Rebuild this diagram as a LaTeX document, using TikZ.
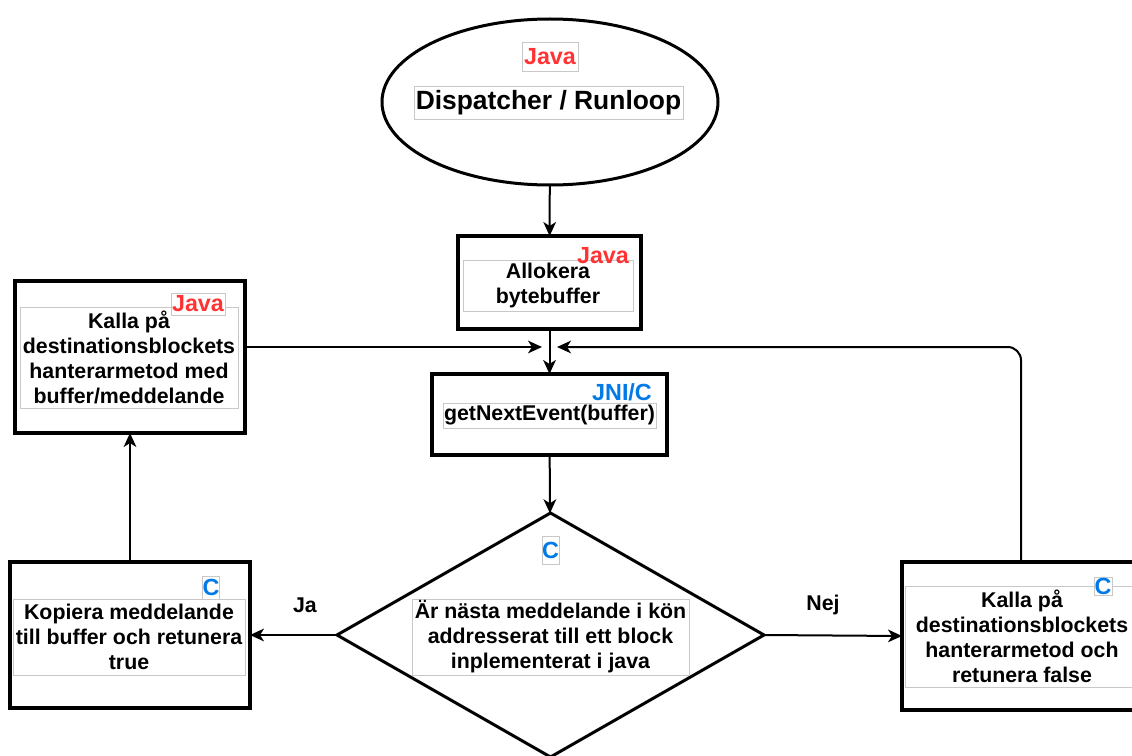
\documentclass[tikz,border=0pt]{standalone}
\usepackage{fontspec}
\setmainfont{Liberation Sans}
\usetikzlibrary{shapes.geometric,arrows.meta}
\definecolor{javared}{RGB}{255,51,51}
\definecolor{cblue}{RGB}{0,122,230}
\definecolor{framegray}{RGB}{200,200,200}
\begin{document}
\begin{tikzpicture}[x=0.75pt,y=-0.75pt,
  every node/.style={inner sep=0pt, outer sep=0pt},
  procbox/.style={draw, line width=3pt, fill=white},
  txt/.style={font=\fontsize{16}{18.75}\selectfont\bfseries, align=center},
  txtframe/.style={txt, draw=framegray, line width=0.5pt},
  javatag/.style={font=\fontsize{17.5}{20}\selectfont\bfseries, text=javared},
  ctag/.style={font=\fontsize{17.5}{20}\selectfont\bfseries, text=cblue},
  tagframe/.style={draw=framegray, line width=0.5pt, fill=white},
  flow/.style={line width=1.5pt, -{Stealth[length=10.5pt, width=9.5pt, inset=3pt]}},
  lbl/.style={font=\fontsize{16}{18}\selectfont\bfseries}
]
\useasboundingbox (0,0) rectangle (1132,756);
\clip (0,0) rectangle (1132,756);

% start: dispatcher ellipse
\node[ellipse, draw, line width=2.25pt, fill=white, minimum width=252pt, minimum height=124.5pt] (disp) at (550,102) {};
\node[javatag, tagframe, minimum width=42pt, minimum height=21.75pt] (dispTag) at (550,56.5) {Java};
\node[font=\fontsize{19.8}{22}\selectfont\bfseries, draw=framegray, line width=0.5pt, minimum width=201.75pt, minimum height=24.75pt] (dispTxt) at (548.5,102.5) {Dispatcher / Runloop};

% allocate byte buffer
\node[procbox, minimum width=137.25pt, minimum height=69.75pt] (alloc) at (549.5,282.5) {};
\node[txtframe, minimum width=127.5pt, minimum height=38.25pt] (allocTxt) at (548,285.5) {Allokera\\bytebuffer};
\node[javatag] (allocTag) at (603,256) {Java};

% getNextEvent
\node[procbox, minimum width=176.25pt, minimum height=60.75pt] (next) at (549.5,414.5) {};
\node[txtframe, minimum width=159.75pt, minimum height=18.75pt] (nextTxt) at (549.5,415.5) {getNextEvent(buffer)};
\node[ctag, fill=white] (nextTag) at (622,392) {JNI/C};

% decision
\node[diamond, draw, line width=2.25pt, fill=white, minimum width=320.25pt, minimum height=183pt] (dec) at (550.5,635) {};
\node[tagframe, ctag, minimum width=12.75pt, minimum height=21pt] (decTag) at (550.5,550) {C};
\node[txtframe, minimum width=207.75pt, minimum height=57pt] (decTxt) at (550.5,637) {Är nästa meddelande i kön\\addresserat till ett block\\inplementerat i java};

% call java handler
\node[procbox, minimum width=172.5pt, minimum height=114pt] (callJ) at (130,357) {};
\node[txtframe, minimum width=163.5pt, minimum height=75.75pt] (callJTxt) at (129,357.5) {};
\node[tagframe, javatag, minimum width=40.5pt, minimum height=16.5pt] (callJTag) at (198,304) {Java};
\node[txt] at (callJTxt) {Kalla på\\destinationsblockets\\hanterarmetod med\\buffer/meddelande};

% copy message
\node[procbox, minimum width=180pt, minimum height=109.5pt] (copy) at (130,635) {};
\node[txtframe, minimum width=174pt, minimum height=57pt] (copyTxt) at (129,637) {Kopiera meddelande\\till buffer och retunera\\true};
\node[tagframe, ctag, minimum width=12pt, minimum height=17.25pt] (copyTag) at (211,587.5) {C};

% call C handler
\node[procbox, minimum width=178.5pt, minimum height=111pt] (callC) at (1021,636) {};
\node[txtframe, minimum width=175.5pt, minimum height=75.75pt] (callCTxt) at (1022,636.5) {Kalla på\\destinationsblockets\\hanterarmetod och\\retunera false};
\node[tagframe, ctag, minimum width=13.5pt, minimum height=13.5pt] (callCTag) at (1103,586) {C};

% junction above getNextEvent
\coordinate (joinL) at (542,347);
\coordinate (joinR) at (557,347);

% connectors
\draw[flow] (disp) -- (alloc);
\draw[flow] (alloc) -- (next);
\draw[flow] (next) -- (dec);
\draw[flow] (dec.west) -- (copy.east);
\draw[flow] (dec.east) -- (callC.west);
\draw[flow] (copy) -- (callJ);
\draw[flow] (callJ.east |- joinL) -- (joinL);
\draw[flow, rounded corners=10pt] (callC.north) |- (joinR);

\node[lbl] (yes) at (305,605) {Ja};
\node[lbl] (no) at (823,605) {Nej};
\end{tikzpicture}
\end{document}
